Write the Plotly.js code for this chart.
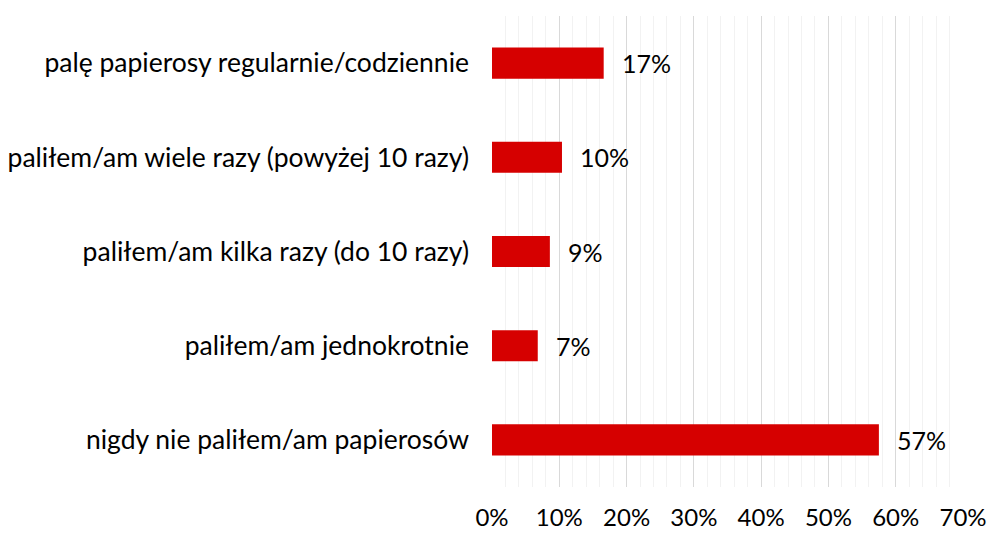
<!DOCTYPE html>
<html><head><meta charset="utf-8">
<script src="https://cdn.plot.ly/plotly-3.0.1.min.js"></script>
<style>html,body{margin:0;padding:0;background:#fff}</style>
</head><body><div id="chart" style="width:990px;height:534px"></div>
<script>
const categories = [
  "palę papierosy regularnie/codziennie",
  "paliłem/am wiele razy (powyżej 10 razy)",
  "paliłem/am kilka razy (do 10 razy)",
  "paliłem/am jednokrotnie",
  "nigdy nie paliłem/am papierosów"
];
const values = [16.6, 10.4, 8.6, 6.8, 57.5];
const labels = ["17%", "10%", "9%", "7%", "57%"];
const tickVals = [0, 10, 20, 30, 40, 50, 60, 70];
const tickText = ["0%", "10%", "20%", "30%", "40%", "50%", "60%", "70%"];

const font = "Lato, 'Open Sans', sans-serif";
const trace = {
  type: "bar", orientation: "h",
  x: values, y: categories,
  marker: {color: "#d60000"},
  hoverinfo: "none"
};
const annotations = values.map((v, i) => ({
  x: v, y: categories[i], xref: "x", yref: "y",
  text: labels[i], showarrow: false, xanchor: "left", xshift: 16,
  font: {family: font, size: 25, color: "#000"}
}));
const layout = {
  width: 990, height: 534,
  margin: {l: 492, r: 27, t: 16, b: 47},
  paper_bgcolor: "#fff", plot_bgcolor: "#fff",
  bargap: 0.67,
  showlegend: false,
  font: {family: font, size: 25, color: "#000"},
  xaxis: {
    range: [0, 70], tickvals: tickVals, ticktext: tickText,
    showgrid: true, gridcolor: "#d9d9d9", gridwidth: 1,
    minor: {dtick: 2, showgrid: true, gridcolor: "#f2f2f2", gridwidth: 1},
    zeroline: false, showline: false, ticks: "",
    ticklabelstandoff: 14,
    tickfont: {family: font, size: 24, color: "#000"},
    fixedrange: true
  },
  yaxis: {
    categoryorder: "array", categoryarray: categories.slice().reverse(),
    showgrid: false, zeroline: false, showline: false, ticks: "",
    ticklabelstandoff: 22,
    tickfont: {family: font, size: 26.5, color: "#000"},
    fixedrange: true
  },
  annotations: annotations
};
Plotly.newPlot("chart", [trace], layout, {displayModeBar: false, staticPlot: true});
</script></body></html>
